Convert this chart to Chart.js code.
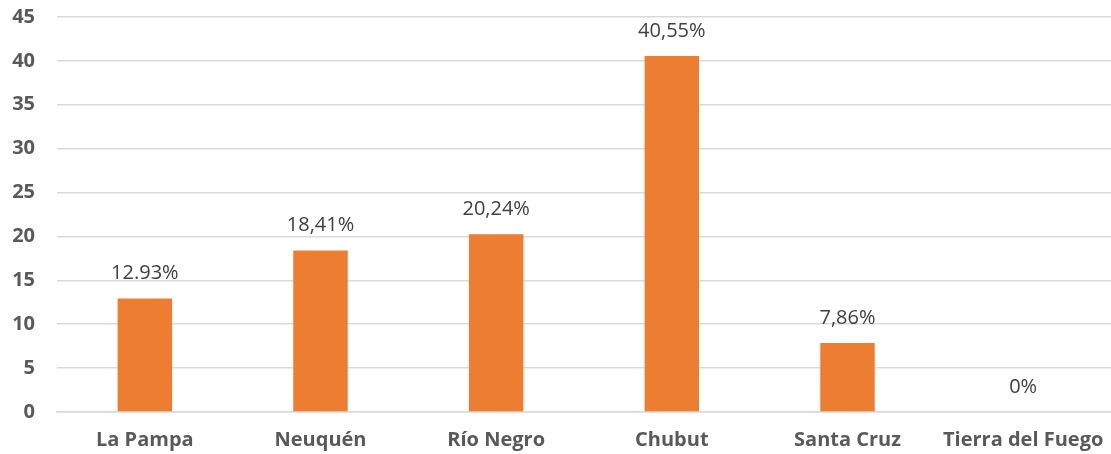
<!DOCTYPE html>
<html>
<head>
<meta charset="utf-8">
<script src="https://cdn.jsdelivr.net/npm/chart.js@4.4.1/dist/chart.umd.min.js"></script>
<style>
  html, body { margin: 0; padding: 0; background: #ffffff; }
  #wrap { width: 1111px; height: 454px; }
</style>
</head>
<body>
<div id="wrap"><canvas id="chart"></canvas></div>
<script>
// Provinces of Patagonia and their share (%)
const provinces = ['La Pampa', 'Neuquén', 'Río Negro', 'Chubut', 'Santa Cruz', 'Tierra del Fuego'];
const shares = [12.93, 18.41, 20.24, 40.55, 7.86, 0];
const shareLabels = ['12.93%', '18,41%', '20,24%', '40,55%', '7,86%', '0%'];
const yTicks = [0, 5, 10, 15, 20, 25, 30, 35, 40, 45];

const FONT = "'Open Sans', 'DejaVu Sans', sans-serif";

// Writes the value label above each bar
const valueLabels = {
  id: 'valueLabels',
  afterDatasetsDraw(chart) {
    const { ctx } = chart;
    const meta = chart.getDatasetMeta(0);
    ctx.save();
    ctx.font = '20px ' + FONT;
    ctx.fillStyle = '#404040';
    ctx.textAlign = 'center';
    ctx.textBaseline = 'middle';
    meta.data.forEach((bar, i) => {
      ctx.fillText(shareLabels[i], bar.x, bar.y - 25);
    });
    ctx.restore();
  }
};

new Chart(document.getElementById('chart'), {
  type: 'bar',
  data: {
    labels: provinces,
    datasets: [{
      data: shares,
      backgroundColor: '#ED7D31',
      borderWidth: 0,
      categoryPercentage: 1,
      barPercentage: 0.31
    }]
  },
  options: {
    responsive: true,
    maintainAspectRatio: false,
    animation: false,
    layout: { padding: { top: 17, right: 0, bottom: 0, left: 0 } },
    plugins: {
      legend: { display: false },
      tooltip: { enabled: false }
    },
    scales: {
      x: {
        grid: { display: false, drawTicks: false },
        border: { display: true, color: '#d9d9d9', width: 1.5 },
        ticks: {
          padding: 16,
          color: '#595959',
          font: { family: FONT, size: 20, weight: 'bold' },
          maxRotation: 0,
          autoSkip: false
        },
        afterFit(scale) {
          scale.height = 42;
          scale.paddingLeft = 0;
          scale.paddingRight = 0;
        }
      },
      y: {
        min: 0,
        max: 45,
        afterBuildTicks(scale) { scale.ticks = yTicks.map(v => ({ value: v })); },
        grid: { color: '#d9d9d9', lineWidth: 1.5, drawTicks: false },
        border: { display: false },
        ticks: {
          padding: 22,
          color: '#595959',
          font: { family: FONT, size: 20, weight: 'bold' }
        },
        afterFit(scale) {
          scale.width = 57;
          scale.paddingTop = 0;
          scale.paddingBottom = 0;
        }
      }
    }
  },
  plugins: [valueLabels]
});
</script>
</body>
</html>
